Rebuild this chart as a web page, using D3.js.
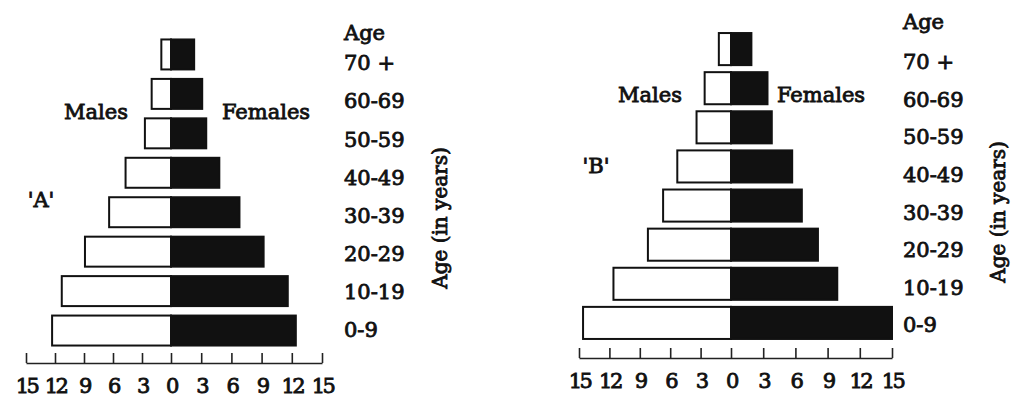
<!DOCTYPE html>
<html><head><meta charset="utf-8">
<script src="https://cdn.jsdelivr.net/npm/d3@7"></script>
<style>
body{margin:0;background:#fff}
text{font-family:"DejaVu Serif",serif;fill:#111;stroke:#111;stroke-width:0.85px}
</style>
</head><body>
<svg id="c" width="1011" height="403"></svg>
<script>
// ---- data ----
const ageGroups = ["70 +","60-69","50-59","40-49","30-39","20-29","10-19","0-9"];
const malesA   = [1.0, 2.0, 2.7, 4.7, 6.4, 8.9, 11.3, 12.3];
const femalesA = [2.3, 3.1, 3.5, 4.8, 6.8, 9.2, 11.6, 12.4];
const malesB   = [1.2, 2.6, 3.4, 5.3, 6.7, 8.2, 11.6, 14.6];
const femalesB = [1.9, 3.4, 3.8, 5.7, 6.6, 8.1, 9.9, 15.0];
const tickValues = [-15,-12,-9,-6,-3,0,3,6,9,12,15];
const headerLabel = "Age";
const axisTitle = "Age (in years)";
const maleLabel = "Males", femaleLabel = "Females";

// ---- layout ----
const panels = [
  {name:"'A'", males:malesA, females:femalesA,
   xr:[26,171,322], yr:[30,355], pad:0.24, axisY:363,
   labX:344, labR:[63,330], headY:33,
   maleX:96, femaleX:266, legY:112, nameX:41, nameY:200,
   titleX:440, titleY:218},
  {name:"'B'", males:malesB, females:femalesB,
   xr:[579,731,892], yr:[26,346], pad:0.18, axisY:358,
   labX:903, labR:[62,325], headY:22,
   maleX:650, femaleX:821, legY:95, nameX:596, nameY:166,
   titleX:998, titleY:212}
];

const svg = d3.select("#c");

panels.forEach(p => {
  const g = svg.append("g");
  const x = d3.scaleLinear().domain([-15,0,15]).range(p.xr);
  const y = d3.scaleBand().domain(ageGroups).range(p.yr).padding(p.pad);
  const yl = d3.scalePoint().domain(ageGroups).range(p.labR);

  const rows = ageGroups.map((a,i)=>({age:a, m:p.males[i], f:p.females[i]}));

  g.selectAll(".m").data(rows).join("rect")
    .attr("x", d=>x(-d.m)).attr("y", d=>y(d.age))
    .attr("width", d=>x(0)-x(-d.m)).attr("height", y.bandwidth())
    .attr("fill","#fff").attr("stroke","#111").attr("stroke-width",2);

  g.selectAll(".f").data(rows).join("rect")
    .attr("x", x(0)).attr("y", d=>y(d.age))
    .attr("width", d=>x(d.f)-x(0)).attr("height", y.bandwidth())
    .attr("fill","#111").attr("stroke","#111").attr("stroke-width",2);

  const axis = d3.axisBottom(x).tickValues(tickValues)
    .tickSize(-10).tickSizeOuter(0).tickPadding(15)
    .tickFormat(d=>Math.abs(d));
  const ag = g.append("g").attr("transform",`translate(0,${p.axisY})`).call(axis);
  ag.select(".domain").attr("stroke","#222").attr("stroke-width",1.6);
  ag.selectAll(".tick line").attr("stroke","#222").attr("stroke-width",1.6);
  ag.selectAll(".tick text").attr("font-size",21).attr("letter-spacing","-2.5px")
    .style("font-family","DejaVu Serif").attr("fill","#111");

  // age labels
  g.append("text").attr("x",p.labX).attr("y",p.headY).attr("dy","0.35em")
    .attr("font-size",21).text(headerLabel);
  g.selectAll(".lab").data(ageGroups).join("text")
    .attr("x",p.labX).attr("y",d=>yl(d)).attr("dy","0.35em")
    .attr("font-size",21).text(d=>d);

  g.append("text").attr("x",p.maleX).attr("y",p.legY).attr("dy","0.35em")
    .attr("text-anchor","middle").attr("font-size",21).text(maleLabel);
  g.append("text").attr("x",p.femaleX).attr("y",p.legY).attr("dy","0.35em")
    .attr("text-anchor","middle").attr("font-size",21).text(femaleLabel);
  g.append("text").attr("x",p.nameX).attr("y",p.nameY).attr("dy","0.35em")
    .attr("text-anchor","middle").attr("font-size",21).text(p.name);

  g.append("text").attr("transform",`translate(${p.titleX},${p.titleY}) rotate(-90)`)
    .attr("text-anchor","middle").attr("dy","0.35em")
    .attr("font-size",20).text(axisTitle);
});
</script>
</body></html>
